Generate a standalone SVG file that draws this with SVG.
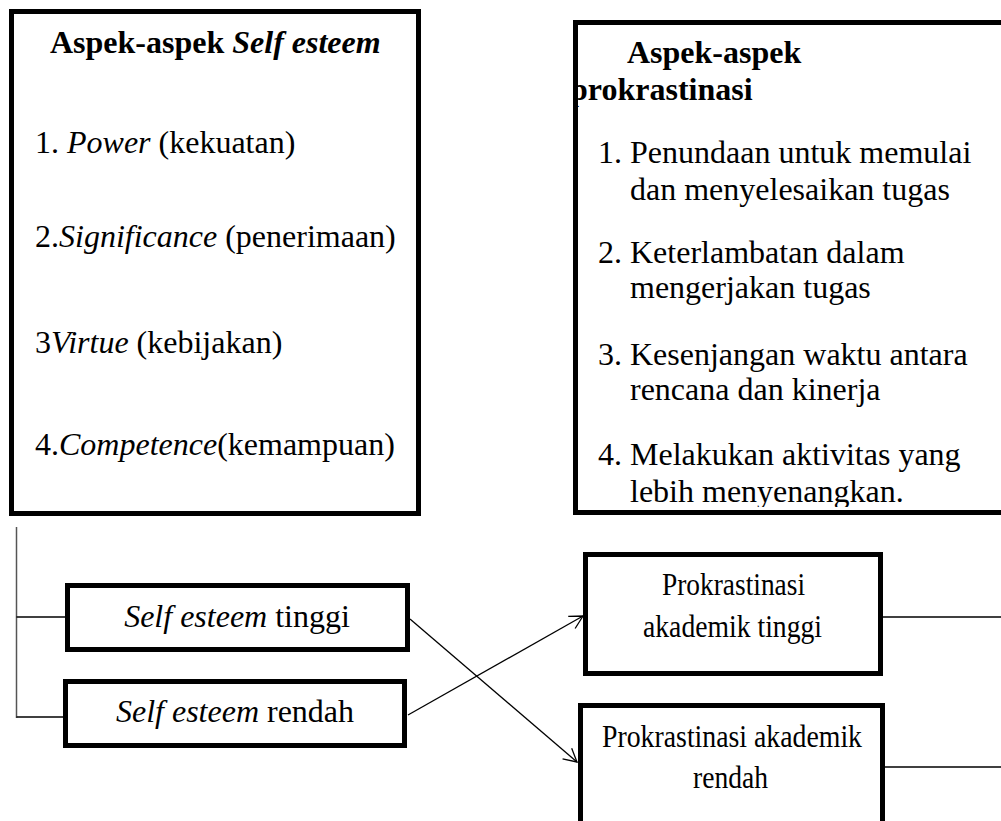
<svg xmlns="http://www.w3.org/2000/svg" width="1001" height="821" viewBox="0 0 1001 821">
<style>
text{font-family:"Liberation Serif","Times New Roman",serif;font-size:32px;fill:#000}
.b{font-weight:bold}
.i{font-style:italic}
.box{fill:#fff;stroke:#000;stroke-width:5}
.c{text-anchor:middle}
.s{font-size:32px}
.ln{stroke:#000;stroke-width:1.3;fill:none}
</style>
<defs>
<marker id="arr" markerWidth="16" markerHeight="16" refX="14" refY="8" orient="auto" markerUnits="userSpaceOnUse">
<path d="M1,1 L14,8 L1,15" fill="none" stroke="#000" stroke-width="1.3"/>
</marker>
<clipPath id="clipR"><rect x="578" y="25" width="430" height="482"/></clipPath>
</defs>
<g id="aspek-self-esteem">
<rect class="box" x="11.5" y="11.5" width="407" height="502"/>
<text class="b" x="50" y="53">Aspek-aspek <tspan class="i">Self esteem</tspan></text>
<text x="35" y="153">1. <tspan class="i">Power</tspan> (kekuatan)</text>
<text x="35" y="247">2.<tspan class="i">Significance</tspan> (penerimaan)</text>
<text x="35" y="353">3<tspan class="i">Virtue</tspan> (kebijakan)</text>
<text x="35" y="455">4.<tspan class="i">Competence</tspan>(kemampuan)</text>
</g>
<g id="aspek-prokrastinasi">
<rect class="box" x="575.5" y="22.5" width="440" height="490"/>
<g clip-path="url(#clipR)">
<text class="b" x="627" y="63">Aspek-aspek</text>
<text class="b" x="570" y="100">prokrastinasi</text>
<text x="598" y="163">1. Penundaan untuk memulai</text>
<text x="630" y="200">dan menyelesaikan tugas</text>
<text x="598" y="263">2. Keterlambatan dalam</text>
<text x="630" y="298">mengerjakan tugas</text>
<text x="598" y="365">3. Kesenjangan waktu antara</text>
<text x="630" y="400">rencana dan kinerja</text>
<text x="598" y="465">4. Melakukan aktivitas yang</text>
<text x="630" y="502">lebih menyenangkan.</text>
</g>
</g>
<g id="se-tinggi">
<rect class="box" x="67.5" y="585.5" width="340" height="64"/>
<text class="c" x="237" y="627"><tspan class="i">Self esteem</tspan> tinggi</text>
</g>
<g id="se-rendah">
<rect class="box" x="65.5" y="681.5" width="339" height="64"/>
<text class="c" x="235" y="722"><tspan class="i">Self esteem</tspan> rendah</text>
</g>
<g id="pa-tinggi">
<rect class="box" x="585.5" y="554.5" width="295" height="119"/>
<text class="s" x="662" y="595" textLength="143" lengthAdjust="spacingAndGlyphs">Prokrastinasi</text>
<text class="s" x="643" y="637" textLength="179" lengthAdjust="spacingAndGlyphs">akademik tinggi</text>
</g>
<g id="pa-rendah">
<rect class="box" x="580.5" y="705.5" width="302" height="130"/>
<text class="s" x="602" y="747" textLength="260" lengthAdjust="spacingAndGlyphs">Prokrastinasi akademik</text>
<text class="s" x="693" y="788" textLength="75" lengthAdjust="spacingAndGlyphs">rendah</text>
</g>
<g id="connectors">
<path d="M16.5,527 V718" stroke="#555" stroke-width="1.5" fill="none"/>
<path class="ln" d="M16.5,617 H65"/>
<path class="ln" d="M16.5,717 H63"/>
<path class="ln" d="M410,619 L577,762" marker-end="url(#arr)"/>
<path class="ln" d="M408,715 L583,616" marker-end="url(#arr)"/>
<path class="ln" d="M883,617 H1001"/>
<path class="ln" d="M885,767 H1001"/>
</g>
</svg>
